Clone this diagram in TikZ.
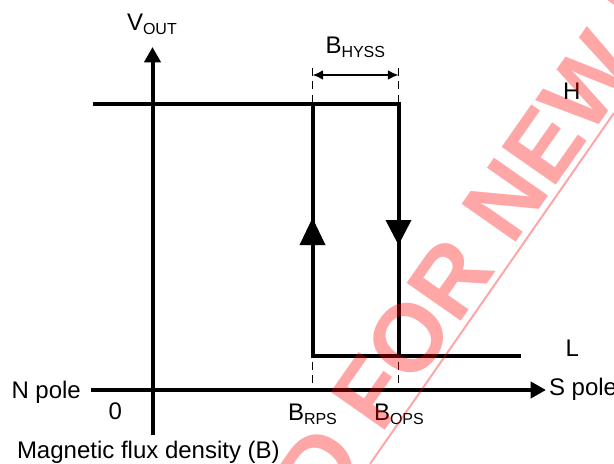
\documentclass[tikz,border=0pt]{standalone}
\usepackage{fontspec}
\setmainfont{Liberation Sans}
\usetikzlibrary{arrows.meta}
\tikzset{
  x=0.75pt,y=-0.75pt,
  lbl/.style={anchor=base west,inner sep=0pt,outer sep=0pt,font=\fontsize{18}{20}\selectfont},
  axisline/.style={line width=3pt,black},
  curve/.style={line width=3pt,black},
  guide/.style={line width=1.1pt,black,dash pattern=on 6pt off 4pt},
  dimline/.style={line width=1.5pt,black,{Latex[length=8pt,width=7.5pt]}-{Latex[length=8pt,width=7.5pt]}},
  axistip/.style={-{Triangle[length=11.5pt,width=12pt]}},
  flowtip/.style={fill=black,draw=none},
  mark wm/.style={anchor=base west,inner sep=0pt,outer sep=0pt,text=red,opacity=.35,font=\fontsize{72}{80}\selectfont\bfseries,rotate=55},
}
\newcommand{\subs}[1]{\raisebox{-3pt}{\fontsize{12}{13}\selectfont #1}}
\begin{document}
\begin{tikzpicture}
\useasboundingbox (0,0) rectangle (614,464);
\clip (0,0) rectangle (614,464);
% anchors
\coordinate (yb) at (152.5,435);
\coordinate (yt) at (152.5,47);
\coordinate (xl) at (91,390);
\coordinate (xr) at (546,390);
\coordinate (hl) at (93,103.5);
\coordinate (hm) at (312.5,103.5);
\coordinate (hr) at (398.5,103.5);
\coordinate (lm) at (312.5,355.5);
\coordinate (lo) at (398.5,355.5);
\coordinate (lr) at (521,355.5);
\coordinate (dl) at (312.5,75);
\coordinate (dr) at (398.5,75);
\coordinate (gl1) at (312.5,68);
\coordinate (gr1) at (398.5,68);
\coordinate (gl2) at (312.5,362);
\coordinate (gl3) at (312.5,385);
\coordinate (gr2) at (398.5,362);
\coordinate (gr3) at (398.5,385);
% axes
\draw[axisline,axistip] (yb) -- (yt);
\draw[axisline,axistip] (xl) -- (xr);
% loop
\draw[curve,line cap=butt] (hl) -- (hr) -- (lo);
\draw[curve,line join=miter] (hm) -- (lm) -- (lr);
\fill[flowtip] (312.5,218) -- (325.5,245) -- (299.5,245) -- cycle;
\fill[flowtip] (398.5,245) -- (385.5,220) -- (411.5,220) -- cycle;
% guides
\draw[guide] (gl1) -- (hm);
\draw[guide] (gr1) -- (hr);
\draw[guide] (gl2) -- (gl3);
\draw[guide] (gr2) -- (gr3);
\draw[dimline] (dl) -- (dr);
% labels
\node[lbl] (vout) at (127,30) {V\subs{OUT}};
\node[lbl] (hyss) at (325.5,53) {B\subs{HYSS}};
\node[lbl] (hlab) at (563,99) {H};
\node[lbl] (llab) at (565.5,356) {L};
\node[lbl] (npole) at (11.5,398) {N pole};
\node[lbl] (spole) at (549,395) {S pole};
\node[lbl] (zero) at (108.5,419) {0};
\node[lbl] (brps) at (288,420) {B\subs{RPS}};
\node[lbl] (bops) at (374,420) {B\subs{OPS}};
\node[lbl] (flux) at (17,458) {Magnetic flux density (B)};
% watermark
\node[mark wm] (wm) at (326,514) {D FOR NEW D};
\draw[red,opacity=.35,line width=1.5pt] (370,464) -- (614,113);
\end{tikzpicture}
\end{document}
